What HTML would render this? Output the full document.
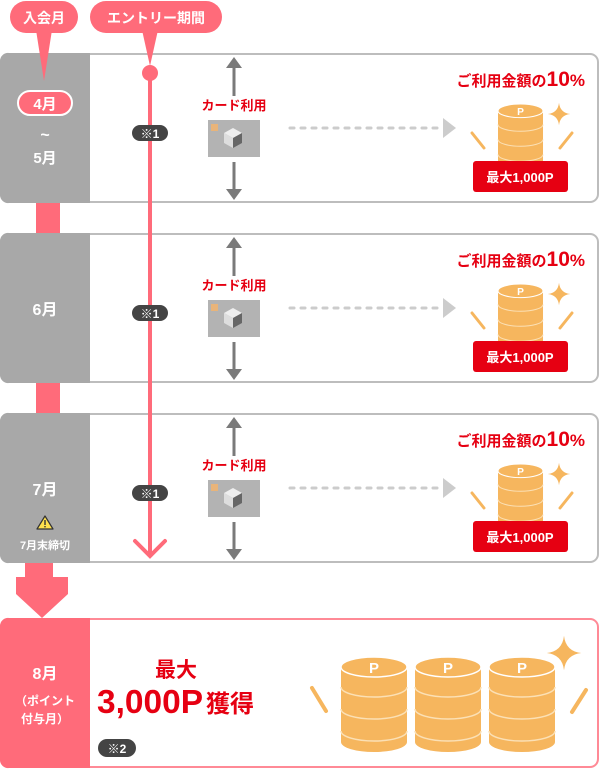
<!DOCTYPE html>
<html><head><meta charset="utf-8"><style>
html,body{margin:0;padding:0;background:#fff;}
svg{display:block;font-family:"Liberation Sans","Noto Sans CJK JP",sans-serif;font-weight:bold;}
</style></head><body>
<svg width="600" height="769" viewBox="0 0 600 769" xmlns="http://www.w3.org/2000/svg">
<defs>
<g id="coin">
  <path d="M0 10 L0 85 A33 10 0 0 0 66 85 L66 10 Z" fill="#f6b65e"/>
  <path d="M0 30 A33 10 0 0 0 66 30 M0 52 A33 10 0 0 0 66 52 M0 74 A33 10 0 0 0 66 74" fill="none" stroke="#fbe0b5" stroke-width="1.5"/>
  <ellipse cx="33" cy="10" rx="33" ry="10" fill="#f6b65e" stroke="#fff" stroke-width="1.5"/>
  <text x="33" y="16" font-size="15" fill="#fff" text-anchor="middle" font-weight="900">P</text>
</g>
<g id="spark"><path d="M0 -15 Q1.5 -1.5 15 0 Q1.5 1.5 0 15 Q-1.5 1.5 -15 0 Q-1.5 -1.5 0 -15Z" fill="#f6b65e"/></g>
<g id="row">
  <line x1="234" y1="64" x2="234" y2="96" stroke="#7a7a7a" stroke-width="3"/>
  <path d="M226 68 L234 57 L242 68Z" fill="#7a7a7a"/>
  <line x1="234" y1="162" x2="234" y2="194" stroke="#7a7a7a" stroke-width="3"/>
  <path d="M226 189 L234 200 L242 189Z" fill="#7a7a7a"/>
  <text x="234" y="110" font-size="13" fill="#e60012" text-anchor="middle">カード利用</text>
  <rect x="208" y="120" width="52" height="37" fill="#b3b3b3"/>
  <rect x="211" y="124" width="7" height="7" fill="#e8b47a"/>
  <path d="M224 133 L233 128 L242 133 L233 138Z" fill="#eee"/>
  <path d="M224 133 L233 138 L233 148 L224 143Z" fill="#ddd"/>
  <path d="M242 133 L233 138 L233 148 L242 143Z" fill="#666"/>
  <line x1="290" y1="128" x2="440" y2="128" stroke="#ccc" stroke-width="3" stroke-linecap="round" stroke-dasharray="4 7"/>
  <path d="M443 118 L456 128 L443 138Z" fill="#ccc"/>
  <text x="585" y="86" font-size="15" fill="#e60012" text-anchor="end">ご利用金額の<tspan font-size="21">10</tspan><tspan font-size="17">%</tspan></text>
  <line x1="472" y1="133" x2="484" y2="148" stroke="#f6b65e" stroke-width="3" stroke-linecap="round"/>
  <line x1="572" y1="133" x2="560" y2="148" stroke="#f6b65e" stroke-width="3" stroke-linecap="round"/>
  <use href="#spark" transform="translate(559 114) scale(0.75)"/>
  <use href="#coin" transform="translate(498 104) scale(0.682)"/>
  <rect x="473" y="161" width="95" height="31" rx="3" fill="#e60012"/>
  <text x="520" y="182" font-size="13" fill="#fff" text-anchor="middle">最大1,000P</text>
</g>
</defs>

<rect x="36" y="200" width="24" height="36" fill="#ff6b7a"/>
<rect x="36" y="380" width="24" height="36" fill="#ff6b7a"/>
<path d="M25 560 L53 560 L53 577 L68 577 L68 594 L42 618 L16 594 L16 577 L25 577Z" fill="#ff6b7a"/>

<g>
  <rect x="1" y="54" width="597" height="148" rx="8" fill="#fff" stroke="#bdbdbd" stroke-width="2"/>
  <path d="M9 53 L90 53 L90 203 L9 203 A8 8 0 0 1 0 195 L0 61 A8 8 0 0 1 9 53Z" fill="#a8a8a8"/>
  <rect x="1" y="234" width="597" height="148" rx="8" fill="#fff" stroke="#bdbdbd" stroke-width="2"/>
  <path d="M9 233 L90 233 L90 383 L9 383 A8 8 0 0 1 0 375 L0 241 A8 8 0 0 1 9 233Z" fill="#a8a8a8"/>
  <rect x="1" y="414" width="597" height="148" rx="8" fill="#fff" stroke="#bdbdbd" stroke-width="2"/>
  <path d="M9 413 L90 413 L90 563 L9 563 A8 8 0 0 1 0 555 L0 421 A8 8 0 0 1 9 413Z" fill="#a8a8a8"/>
  <rect x="1" y="619" width="597" height="148" rx="8" fill="#fff" stroke="#ff8a96" stroke-width="2"/>
  <path d="M9 618 L90 618 L90 768 L9 768 A8 8 0 0 1 0 760 L0 626 A8 8 0 0 1 9 618Z" fill="#ff6b7a"/>
</g>

<use href="#row"/>
<use href="#row" transform="translate(0 180)"/>
<use href="#row" transform="translate(0 360)"/>

<rect x="18" y="91" width="54" height="24" rx="12" fill="#ff6b7a" stroke="#fff" stroke-width="2"/>
<text x="45" y="109" font-size="15" fill="#fff" text-anchor="middle">4月</text>
<text x="45" y="140" font-size="16" fill="#fff" text-anchor="middle">~</text>
<text x="45" y="163" font-size="15" fill="#fff" text-anchor="middle">5月</text>
<text x="45" y="315" font-size="16" fill="#fff" text-anchor="middle">6月</text>
<text x="45" y="495" font-size="16" fill="#fff" text-anchor="middle">7月</text>
<path d="M45 516 L53 529 L37 529Z" fill="#ffe14d" stroke="#333" stroke-width="1.2" stroke-linejoin="round"/>
<rect x="44.3" y="520" width="1.4" height="5" fill="#333"/><rect x="44.3" y="526" width="1.4" height="1.4" fill="#333"/>
<text x="45" y="549" font-size="11" fill="#fff" text-anchor="middle">7月末締切</text>
<text x="45" y="679" font-size="16" fill="#fff" text-anchor="middle">8月</text>
<text x="45" y="705" font-size="12" fill="#fff" text-anchor="middle">（ポイント</text>
<text x="45" y="723" font-size="12" fill="#fff" text-anchor="middle">付与月）</text>

<line x1="150" y1="73" x2="150" y2="554" stroke="#ff6b7a" stroke-width="4"/>
<circle cx="150" cy="73" r="8" fill="#ff6b7a"/>
<path d="M135 541 L150 556 L165 541" fill="none" stroke="#ff6b7a" stroke-width="4" stroke-linecap="round"/>
<g>
  <rect x="132" y="125" width="36" height="16" rx="8" fill="#444"/>
  <text x="150" y="138" font-size="12" fill="#fff" text-anchor="middle">※1</text>
  <rect x="132" y="305" width="36" height="16" rx="8" fill="#444"/>
  <text x="150" y="318" font-size="12" fill="#fff" text-anchor="middle">※1</text>
  <rect x="132" y="485" width="36" height="16" rx="8" fill="#444"/>
  <text x="150" y="498" font-size="12" fill="#fff" text-anchor="middle">※1</text>
</g>

<rect x="10" y="1" width="68" height="32" rx="16" fill="#ff6b7a"/>
<path d="M36 30 L52 30 L44 81Z" fill="#ff6b7a"/>
<text x="44" y="23" font-size="14" fill="#fff" text-anchor="middle">入会月</text>
<rect x="90" y="1" width="132" height="32" rx="16" fill="#ff6b7a"/>
<path d="M142 30 L158 30 L150 66Z" fill="#ff6b7a"/>
<text x="156" y="23" font-size="14" fill="#fff" text-anchor="middle">エントリー期間</text>

<text x="176" y="677" font-size="21" fill="#e60012" text-anchor="middle">最大</text>
<text x="97" y="713" font-size="33" fill="#e60012" textLength="106" lengthAdjust="spacingAndGlyphs">3,000P</text>
<text x="206" y="712" font-size="24" fill="#e60012">獲得</text>
<rect x="98" y="739" width="38" height="18" rx="9" fill="#444"/>
<text x="117" y="753" font-size="12" fill="#fff" text-anchor="middle">※2</text>
<line x1="312" y1="688" x2="326" y2="711" stroke="#f6b65e" stroke-width="4" stroke-linecap="round"/>
<line x1="586" y1="690" x2="572" y2="712" stroke="#f6b65e" stroke-width="4" stroke-linecap="round"/>
<use href="#coin" transform="translate(341 657)"/>
<use href="#coin" transform="translate(415 657)"/>
<use href="#coin" transform="translate(489 657)"/>
<use href="#spark" transform="translate(564 653) scale(1.15)"/>
</svg>
</body></html>
